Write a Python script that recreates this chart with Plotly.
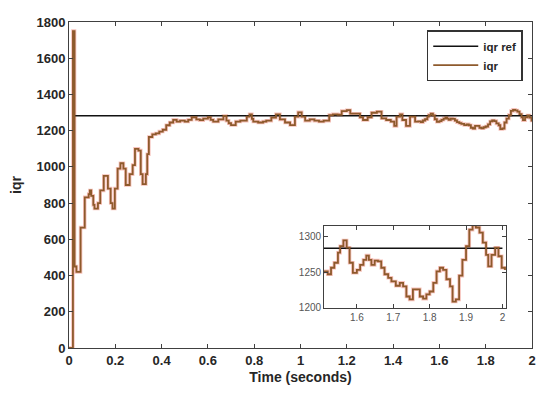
import plotly.graph_objects as go

# ---- data ----
time_s = [0.000, 0.017, 0.024, 0.032, 0.050, 0.068, 0.085, 0.090, 0.096, 0.105,
          0.110, 0.125, 0.135, 0.150, 0.168, 0.180, 0.188, 0.198, 0.210, 0.222,
          0.235, 0.245, 0.262, 0.275, 0.285, 0.300, 0.310, 0.318, 0.332, 0.338,
          0.345, 0.360, 0.375, 0.390, 0.405, 0.420, 0.435, 0.450, 0.465, 0.480,
          0.500, 0.515, 0.530, 0.550, 0.565, 0.580, 0.600, 0.612, 0.623, 0.645,
          0.667, 0.680, 0.690, 0.700, 0.720, 0.740, 0.768, 0.780, 0.790, 0.796,
          0.817, 0.838, 0.852, 0.874, 0.894, 0.911, 0.933, 0.955, 0.976, 0.990,
          1.005, 1.020, 1.040, 1.060, 1.080, 1.100, 1.124, 1.140, 1.160, 1.178,
          1.200, 1.215, 1.234, 1.257, 1.270, 1.290, 1.307, 1.330, 1.350, 1.370,
          1.390, 1.405, 1.415, 1.430, 1.440, 1.456, 1.473, 1.495, 1.509, 1.520,
          1.529, 1.538, 1.548, 1.554, 1.563, 1.572, 1.580, 1.589, 1.600, 1.609,
          1.618, 1.626, 1.633, 1.640, 1.649, 1.658, 1.667, 1.676, 1.686, 1.695,
          1.707, 1.718, 1.727, 1.736, 1.745, 1.754, 1.764, 1.773, 1.782, 1.791,
          1.800, 1.810, 1.819, 1.828, 1.837, 1.846, 1.856, 1.863, 1.872, 1.881,
          1.890, 1.900, 1.909, 1.918, 1.927, 1.937, 1.946, 1.955, 1.961, 1.970,
          1.980, 1.989, 1.998, 2.007]
iqr = [0, 1750, 450, 420, 665, 832, 850, 870, 840, 790,
       770, 800, 870, 950, 880, 800, 770, 880, 990, 1020,
       990, 900, 960, 1010, 1100, 1090, 960, 905, 960, 1070,
       1165, 1180, 1185, 1195, 1205, 1230, 1245, 1260, 1250, 1255,
       1250, 1260, 1274, 1262, 1258, 1266, 1274, 1260, 1250, 1262,
       1281, 1255, 1241, 1231, 1250, 1255, 1277, 1290, 1265, 1250,
       1245, 1250, 1255, 1272, 1290, 1262, 1245, 1231, 1277, 1301,
       1277, 1255, 1262, 1255, 1250, 1255, 1286, 1290, 1288, 1308,
       1313, 1294, 1294, 1274, 1259, 1274, 1299, 1305, 1268, 1259,
       1250, 1226, 1277, 1290, 1259, 1226, 1277, 1250, 1251, 1247,
       1256, 1263, 1277, 1286, 1294, 1284, 1263, 1249, 1253, 1260,
       1267, 1273, 1267, 1260, 1266, 1265, 1256, 1247, 1242, 1237,
       1231, 1235, 1230, 1216, 1212, 1226, 1226, 1216, 1213, 1219,
       1223, 1235, 1251, 1256, 1253, 1240, 1230, 1209, 1212, 1245,
       1267, 1286, 1309, 1315, 1312, 1305, 1291, 1274, 1258, 1274,
       1284, 1272, 1256, 1253]
ref_time = [0.02, 2.0]
iqr_ref = [1283, 1283]

x_ticks = [0, 0.2, 0.4, 0.6, 0.8, 1, 1.2, 1.4, 1.6, 1.8, 2]
y_ticks = [0, 200, 400, 600, 800, 1000, 1200, 1400, 1600, 1800]
inset_x_ticks = [1.6, 1.7, 1.8, 1.9, 2]
inset_y_ticks = [1200, 1250, 1300]

BROWN = "#8e5a2c"
HALO = "rgba(230,80,60,0.35)"
AX = "#404040"
FONT = "Liberation Sans, Arial, sans-serif"

fig = go.Figure()

# main axes
fig.add_trace(go.Scatter(x=time_s, y=iqr, mode="lines", line=dict(color=HALO, width=3.5, shape="hv"),
                         showlegend=False, hoverinfo="skip", xaxis="x", yaxis="y"))
fig.add_trace(go.Scatter(x=ref_time, y=iqr_ref, mode="lines", name="iqr ref",
                         line=dict(color="#111111", width=1.5), xaxis="x", yaxis="y"))
fig.add_trace(go.Scatter(x=time_s, y=iqr, mode="lines", name="iqr",
                         line=dict(color=BROWN, width=1.8, shape="hv"), xaxis="x", yaxis="y"))

# inset axes
fig.add_trace(go.Scatter(x=time_s, y=iqr, mode="lines", line=dict(color=HALO, width=3.5, shape="hv"),
                         showlegend=False, hoverinfo="skip", xaxis="x2", yaxis="y2"))
fig.add_trace(go.Scatter(x=ref_time, y=iqr_ref, mode="lines", line=dict(color="#111111", width=1.5),
                         showlegend=False, xaxis="x2", yaxis="y2"))
fig.add_trace(go.Scatter(x=time_s, y=iqr, mode="lines", line=dict(color=BROWN, width=1.8, shape="hv"),
                         showlegend=False, xaxis="x2", yaxis="y2"))

common = dict(showgrid=False, zeroline=False, showline=True, linecolor=AX, linewidth=1,
              mirror="ticks", ticks="inside", ticklen=4, tickcolor=AX, automargin=False)

fig.update_layout(
    width=550, height=393,
    margin=dict(l=61, r=26, t=14, b=53),
    paper_bgcolor="white", plot_bgcolor="white",
    font=dict(family=FONT, color="#262626"),
    xaxis=dict(range=[0, 2], tickvals=x_ticks, domain=[0, 1],
               tickfont=dict(size=13, family=FONT, weight="bold"),
               title=dict(text="<b>Time (seconds)</b>", font=dict(size=14), standoff=5),
               **common),
    yaxis=dict(range=[0, 1800], tickvals=y_ticks, domain=[0, 1],
               tickfont=dict(size=13, family=FONT, weight="bold"),
               title=dict(text="<b>iqr</b>", font=dict(size=14), standoff=11),
               **common),
    xaxis2=dict(range=[1.51, 2.01], tickvals=inset_x_ticks, domain=[0.551, 0.944], anchor="y2",
                tickfont=dict(size=10, color="#555555"), **common),
    yaxis2=dict(range=[1200, 1314], tickvals=inset_y_ticks, domain=[0.1227, 0.374], anchor="x2",
                tickfont=dict(size=10, color="#555555"), **common),
    legend=dict(x=0.98, y=0.975, xanchor="right", yanchor="top",
                bgcolor="white", bordercolor="#333333", borderwidth=1.5,
                font=dict(size=11.5, family=FONT, weight="bold"),
                tracegroupgap=0, itemwidth=45),
    showlegend=True,
)

fig.write_html("out.html")
